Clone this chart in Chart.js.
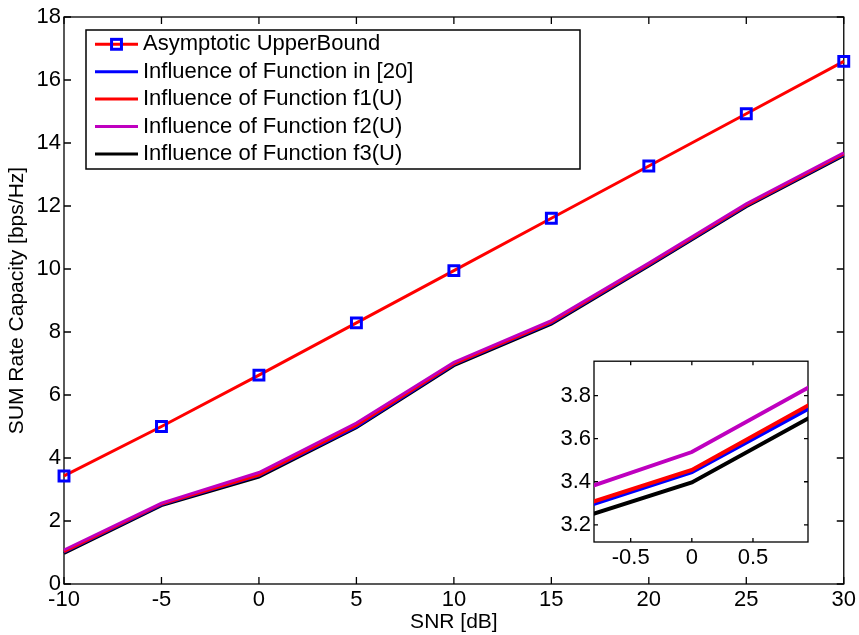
<!DOCTYPE html>
<html><head><meta charset="utf-8">
<script src="https://cdn.jsdelivr.net/npm/chart.js@4.4.0/dist/chart.umd.min.js"></script>
<style>
html,body{margin:0;padding:0;background:#fff;}
#wrap{position:relative;width:859px;height:635px;overflow:hidden;}
#main{position:absolute;left:0;top:0;}
#inset{position:absolute;left:544px;top:345px;}
</style></head><body>
<div id="wrap"><canvas id="main" width="859" height="635"></canvas><canvas id="inset" width="271" height="230"></canvas></div>
<script>
// ---- data ----
const snr = [-10, -5, 0, 5, 10, 15, 20, 25, 30];
const upperBound = [3.43, 5.00, 6.63, 8.29, 9.95, 11.61, 13.27, 14.93, 16.59];
const funcRef20  = [1.01, 2.52, 3.445, 4.99, 6.97, 8.29, 10.13, 12.01, 13.63];
const funcF1     = [1.03, 2.54, 3.455, 5.03, 6.99, 8.31, 10.15, 12.03, 13.65];
const funcF2     = [1.08, 2.57, 3.538, 5.11, 7.04, 8.36, 10.19, 12.07, 13.69];
const funcF3     = [0.97, 2.49, 3.397, 4.96, 6.93, 8.25, 10.10, 11.98, 13.60];
const seriesLabels = ['Asymptotic UpperBound', 'Influence of Function in [20]', 'Influence of Function f1(U)', 'Influence of Function f2(U)', 'Influence of Function f3(U)'];
const xTicks = [-10, -5, 0, 5, 10, 15, 20, 25, 30];
const yTicks = [0, 2, 4, 6, 8, 10, 12, 14, 16, 18];
const insetXTicks = [-0.5, 0, 0.5];
const insetYTicks = [3.2, 3.4, 3.6, 3.8];
const xTitle = 'SNR [dB]';
const yTitle = 'SUM Rate Capacity [bps/Hz]';

const FONT = "'Liberation Sans', Arial, Helvetica, sans-serif";
Chart.defaults.font.family = FONT;
Chart.defaults.font.size = 22;
Chart.defaults.color = '#000';

const pts = arr => snr.map((x, i) => ({x: x, y: arr[i]}));

// inward tick marks + box, drawn beneath data like MATLAB
const frameTicks = {
  id: 'frameTicks',
  beforeDatasetsDraw(chart, args, o) {
    const {ctx, chartArea: a, scales} = chart;
    const x = scales.x, y = scales.y;
    ctx.save();
    if (o.fill) { ctx.fillStyle = '#fff'; ctx.fillRect(a.left, a.top, a.right - a.left, a.bottom - a.top); }
    ctx.strokeStyle = '#000';
    ctx.lineWidth = o.lw;
    ctx.strokeRect(a.left, a.top, a.right - a.left, a.bottom - a.top);
    ctx.beginPath();
    x.ticks.forEach(t => {
      const p = x.getPixelForValue(t.value);
      ctx.moveTo(p, a.bottom); ctx.lineTo(p, a.bottom - o.len);
      ctx.moveTo(p, a.top); ctx.lineTo(p, a.top + o.len);
    });
    y.ticks.forEach(t => {
      const p = y.getPixelForValue(t.value);
      ctx.moveTo(a.left, p); ctx.lineTo(a.left + o.len, p);
      ctx.moveTo(a.right, p); ctx.lineTo(a.right - o.len, p);
    });
    ctx.stroke();
    ctx.restore();
  }
};

// MATLAB style legend box
const matlabLegend = {
  id: 'matlabLegend',
  afterDraw(chart, args, o) {
    const ctx = chart.ctx;
    ctx.save();
    ctx.fillStyle = '#fff';
    ctx.fillRect(o.left, o.top, o.width, o.height);
    ctx.strokeStyle = '#000';
    ctx.lineWidth = 1.5;
    ctx.strokeRect(o.left, o.top, o.width, o.height);
    chart.data.datasets.forEach((ds, i) => {
      const yy = o.top + o.firstRow + i * o.rowGap;
      ctx.strokeStyle = ds.borderColor;
      ctx.lineWidth = ds.borderWidth;
      ctx.beginPath(); ctx.moveTo(o.lineX0, yy); ctx.lineTo(o.lineX1, yy); ctx.stroke();
      if (ds.pointRadius > 0) {
        const s = ds.pointRadius * Math.SQRT1_2;
        const mx = (o.lineX0 + o.lineX1) / 2;
        ctx.strokeStyle = ds.pointBorderColor;
        ctx.lineWidth = ds.pointBorderWidth;
        ctx.strokeRect(mx - s, yy - s, 2 * s, 2 * s);
      }
      ctx.fillStyle = '#000';
      ctx.font = '22px ' + FONT;
      ctx.textBaseline = 'middle';
      ctx.textAlign = 'left';
      ctx.fillText(ds.label, o.textX, yy);
    });
    ctx.restore();
  }
};

const colors = {upper: '#FF0000', ref: '#0000FF', f1: '#FF0000', f2: '#BF00BF', f3: '#000000'};

new Chart(document.getElementById('main'), {
  type: 'line',
  data: {
    datasets: [
      {label: seriesLabels[0], data: pts(upperBound), borderColor: colors.upper, borderWidth: 3,
       pointStyle: 'rect', pointRadius: 7, pointBorderColor: '#0000FF', pointBorderWidth: 3,
       pointBackgroundColor: 'rgba(0,0,0,0)', order: 0, clip: false},
      {label: seriesLabels[1], data: pts(funcRef20), borderColor: colors.ref, borderWidth: 3, pointRadius: 0, order: 3, clip: false},
      {label: seriesLabels[2], data: pts(funcF1), borderColor: colors.f1, borderWidth: 3, pointRadius: 0, order: 2, clip: false},
      {label: seriesLabels[3], data: pts(funcF2), borderColor: colors.f2, borderWidth: 3, pointRadius: 0, order: 1, clip: false},
      {label: seriesLabels[4], data: pts(funcF3), borderColor: colors.f3, borderWidth: 3, pointRadius: 0, order: 4, clip: false}
    ]
  },
  options: {
    responsive: false, animation: false, devicePixelRatio: 1, events: [],
    layout: {padding: {top: 17, right: 13, left: 0, bottom: 0}},
    elements: {line: {tension: 0, borderCapStyle: 'butt', borderJoinStyle: 'miter'}},
    plugins: {
      legend: {display: false}, tooltip: {enabled: false},
      frameTicks: {lw: 1.3, len: 7, fill: false},
      matlabLegend: {left: 86, top: 30, width: 494, height: 139, firstRow: 14.3, rowGap: 27.4, lineX0: 95, lineX1: 138, textX: 143}
    },
    scales: {
      x: {
        type: 'linear', min: -10, max: 30,
        afterBuildTicks: s => { s.ticks = xTicks.map(v => ({value: v})); },
        afterFit: s => { s.height = 51; },
        grid: {display: false, drawTicks: false}, border: {display: false},
        ticks: {padding: 3, maxRotation: 0, autoSkip: false, callback: v => String(v)},
        title: {display: true, text: xTitle, font: {size: 21}, padding: {top: 0, bottom: 0}}
      },
      y: {
        type: 'linear', min: 0, max: 18,
        afterBuildTicks: s => { s.ticks = yTicks.map(v => ({value: v})); },
        afterFit: s => { s.width = 64; },
        grid: {display: false, drawTicks: false}, border: {display: false},
        ticks: {padding: 3, autoSkip: false, callback: v => String(v)},
        title: {display: true, text: yTitle, font: {size: 21}, padding: {top: 5, bottom: 0}}
      }
    }
  },
  plugins: [frameTicks, matlabLegend]
});

new Chart(document.getElementById('inset'), {
  type: 'line',
  data: {
    datasets: [
      {label: seriesLabels[1], data: pts(funcRef20), borderColor: colors.ref, borderWidth: 4, pointRadius: 0, order: 3, clip: 0},
      {label: seriesLabels[2], data: pts(funcF1), borderColor: colors.f1, borderWidth: 4, pointRadius: 0, order: 2, clip: 0},
      {label: seriesLabels[3], data: pts(funcF2), borderColor: colors.f2, borderWidth: 4, pointRadius: 0, order: 1, clip: 0},
      {label: seriesLabels[4], data: pts(funcF3), borderColor: colors.f3, borderWidth: 4, pointRadius: 0, order: 4, clip: 0}
    ]
  },
  options: {
    responsive: false, animation: false, devicePixelRatio: 1, events: [],
    layout: {padding: {top: 7, right: 7, left: 0, bottom: 0}},
    elements: {line: {tension: 0, borderCapStyle: 'butt', borderJoinStyle: 'miter'}},
    plugins: {legend: {display: false}, tooltip: {enabled: false}, frameTicks: {lw: 1.3, len: 4, fill: true}},
    scales: {
      x: {
        type: 'linear', min: -0.8, max: 0.95,
        afterBuildTicks: s => { s.ticks = insetXTicks.map(v => ({value: v})); },
        afterFit: s => { s.height = 33; },
        grid: {display: false, drawTicks: false}, border: {display: false},
        ticks: {padding: 3, maxRotation: 0, autoSkip: false, callback: v => String(v)}
      },
      y: {
        type: 'linear', min: 3.12, max: 3.96,
        afterBuildTicks: s => { s.ticks = insetYTicks.map(v => ({value: v})); },
        afterFit: s => { s.width = 50; },
        grid: {display: false, drawTicks: false}, border: {display: false},
        ticks: {padding: 3, autoSkip: false, callback: v => String(v)}
      }
    }
  },
  plugins: [frameTicks]
});
</script>
</body></html>
